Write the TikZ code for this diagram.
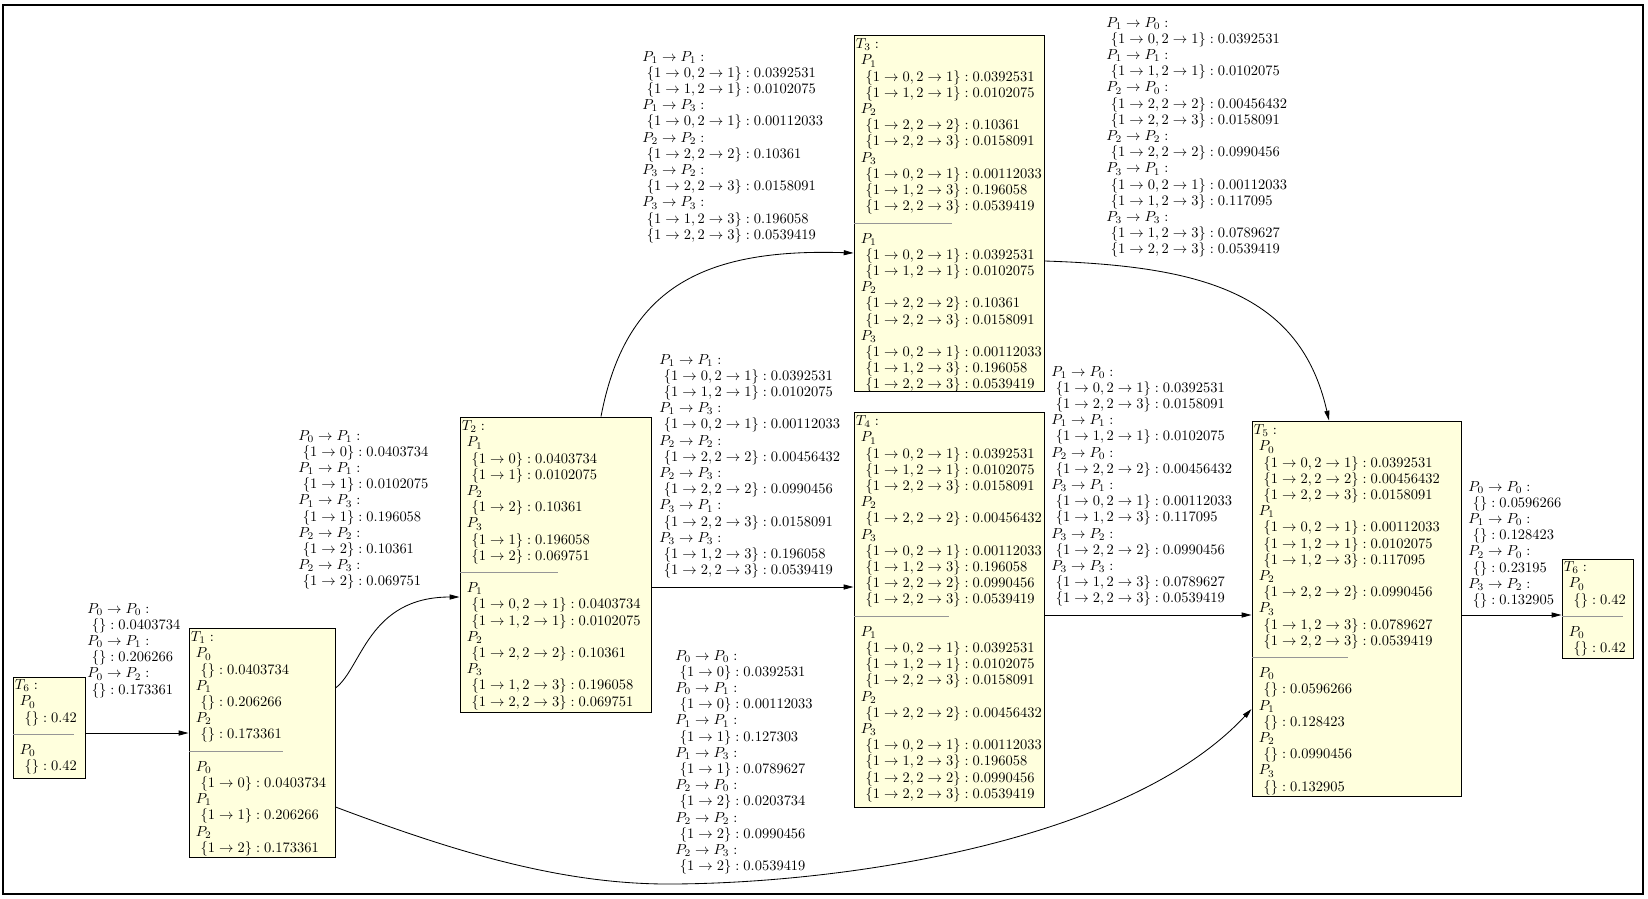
\RequirePackage{fix-cm}
\documentclass[tikz,border=0pt]{standalone}
\usepackage{xcolor}
\usetikzlibrary{arrows.meta,fit}
\definecolor{boxfill}{RGB}{255,255,221}
\definecolor{sepgray}{RGB}{150,150,150}
\newlength\indA \setlength\indA{3.6pt}
\newlength\indB \setlength\indB{7pt}
\newlength\indL \setlength\indL{3.3pt}
\newcommand{\BH}[1]{$T_{#1}:$}
\newcommand{\BP}[1]{\hspace*{\indA}$P_{#1}$}
\newcommand{\BE}[2]{\hspace*{\indB}$\{#1\}:#2$}
\newcommand{\BS}[1]{\hspace*{-1.4pt}\textcolor{sepgray}{\rule[2.5pt]{#1}{0.5pt}}}
\newcommand{\LH}[2]{$P_{#1}\to P_{#2}:$}
\newcommand{\LE}[2]{\hspace*{\indL}$\{#1\}:#2$}
\begin{document}
\begin{tikzpicture}[x=0.7143pt,y=-0.7143pt,
  box/.style={draw=black, fill=boxfill, line width=0.7pt, inner sep=0pt},
  txt/.style={anchor=north west, inner sep=0pt, align=left, font=\fontsize{10.35pt}{11.57pt}\selectfont},
  arr/.style={-{Triangle[length=7pt,width=3.6pt]}, line width=0.6pt}]
\useasboundingbox (0,0) rectangle (1648,899);
\draw[line width=1.4pt] (3,5) rectangle (1643,894);

% boxes
\node[box, fit={(13,677) (85,778)}] (T6a) {};
\node[box, fit={(189,628) (335,857)}] (T1) {};
\node[box, fit={(460,417) (651,712)}] (T2) {};
\node[box, fit={(854,35) (1044,391)}] (T3) {};
\node[box, fit={(854,412) (1044,807)}] (T4) {};
\node[box, fit={(1252,421) (1461,796)}] (T5) {};
\node[box, fit={(1562,559) (1633,658)}] (T6b) {};

% box texts
\node[txt] (T6at) at ([shift={(2,3)}]T6a.north west) {\BH{6}\\ \BP{0}\\ \BE{}{0.42}\\ \BS{44pt}\\ \BP{0}\\ \BE{}{0.42}};
\node[txt] (T6bt) at ([shift={(2,3)}]T6b.north west) {\BH{6}\\ \BP{0}\\ \BE{}{0.42}\\ \BS{44pt}\\ \BP{0}\\ \BE{}{0.42}};
\node[txt] (T1t) at ([shift={(2,4)}]T1.north west) {\BH{1}\\ \BP{0}\\ \BE{}{0.0403734}\\ \BP{1}\\ \BE{}{0.206266}\\ \BP{2}\\ \BE{}{0.173361}\\ \BS{67pt}\\
 \BP{0}\\ \BE{1\to 0}{0.0403734}\\ \BP{1}\\ \BE{1\to 1}{0.206266}\\ \BP{2}\\ \BE{1\to 2}{0.173361}};
\node[txt] (T2t) at ([shift={(2,4)}]T2.north west) {\BH{2}\\ \BP{1}\\ \BE{1\to 0}{0.0403734}\\ \BE{1\to 1}{0.0102075}\\ \BP{2}\\ \BE{1\to 2}{0.10361}\\ \BP{3}\\ \BE{1\to 1}{0.196058}\\ \BE{1\to 2}{0.069751}\\ \BS{70pt}\\
 \BP{1}\\ \BE{1\to 0,2\to 1}{0.0403734}\\ \BE{1\to 1,2\to 1}{0.0102075}\\ \BP{2}\\ \BE{1\to 2,2\to 2}{0.10361}\\ \BP{3}\\ \BE{1\to 1,2\to 3}{0.196058}\\ \BE{1\to 2,2\to 3}{0.069751}};
\node[txt] (T3t) at ([shift={(2,4)}]T3.north west) {\BH{3}\\ \BP{1}\\ \BE{1\to 0,2\to 1}{0.0392531}\\ \BE{1\to 1,2\to 1}{0.0102075}\\ \BP{2}\\ \BE{1\to 2,2\to 2}{0.10361}\\ \BE{1\to 2,2\to 3}{0.0158091}\\ \BP{3}\\ \BE{1\to 0,2\to 1}{0.00112033}\\ \BE{1\to 1,2\to 3}{0.196058}\\ \BE{1\to 2,2\to 3}{0.0539419}\\ \BS{70pt}\\
 \BP{1}\\ \BE{1\to 0,2\to 1}{0.0392531}\\ \BE{1\to 1,2\to 1}{0.0102075}\\ \BP{2}\\ \BE{1\to 2,2\to 2}{0.10361}\\ \BE{1\to 2,2\to 3}{0.0158091}\\ \BP{3}\\ \BE{1\to 0,2\to 1}{0.00112033}\\ \BE{1\to 1,2\to 3}{0.196058}\\ \BE{1\to 2,2\to 3}{0.0539419}};
\node[txt] (T4t) at ([shift={(2,4)}]T4.north west) {\BH{4}\\ \BP{1}\\ \BE{1\to 0,2\to 1}{0.0392531}\\ \BE{1\to 1,2\to 1}{0.0102075}\\ \BE{1\to 2,2\to 3}{0.0158091}\\ \BP{2}\\ \BE{1\to 2,2\to 2}{0.00456432}\\ \BP{3}\\ \BE{1\to 0,2\to 1}{0.00112033}\\ \BE{1\to 1,2\to 3}{0.196058}\\ \BE{1\to 2,2\to 2}{0.0990456}\\ \BE{1\to 2,2\to 3}{0.0539419}\\ \BS{68pt}\\
 \BP{1}\\ \BE{1\to 0,2\to 1}{0.0392531}\\ \BE{1\to 1,2\to 1}{0.0102075}\\ \BE{1\to 2,2\to 3}{0.0158091}\\ \BP{2}\\ \BE{1\to 2,2\to 2}{0.00456432}\\ \BP{3}\\ \BE{1\to 0,2\to 1}{0.00112033}\\ \BE{1\to 1,2\to 3}{0.196058}\\ \BE{1\to 2,2\to 2}{0.0990456}\\ \BE{1\to 2,2\to 3}{0.0539419}};
\node[txt] (T5t) at ([shift={(2,4)}]T5.north west) {\BH{5}\\ \BP{0}\\ \BE{1\to 0,2\to 1}{0.0392531}\\ \BE{1\to 2,2\to 2}{0.00456432}\\ \BE{1\to 2,2\to 3}{0.0158091}\\ \BP{1}\\ \BE{1\to 0,2\to 1}{0.00112033}\\ \BE{1\to 1,2\to 1}{0.0102075}\\ \BE{1\to 1,2\to 3}{0.117095}\\ \BP{2}\\ \BE{1\to 2,2\to 2}{0.0990456}\\ \BP{3}\\ \BE{1\to 1,2\to 3}{0.0789627}\\ \BE{1\to 2,2\to 3}{0.0539419}\\ \BS{69pt}\\
 \BP{0}\\ \BE{}{0.0596266}\\ \BP{1}\\ \BE{}{0.128423}\\ \BP{2}\\ \BE{}{0.0990456}\\ \BP{3}\\ \BE{}{0.132905}};

% edge labels
\node[txt] (L61) at (87,603) {\LH{0}{0}\\ \LE{}{0.0403734}\\ \LH{0}{1}\\ \LE{}{0.206266}\\ \LH{0}{2}\\ \LE{}{0.173361}};
\node[txt] (L12) at (298,430) {\LH{0}{1}\\ \LE{1\to 0}{0.0403734}\\ \LH{1}{1}\\ \LE{1\to 1}{0.0102075}\\ \LH{1}{3}\\ \LE{1\to 1}{0.196058}\\ \LH{2}{2}\\ \LE{1\to 2}{0.10361}\\ \LH{2}{3}\\ \LE{1\to 2}{0.069751}};
\node[txt] (L23) at (642,51) {\LH{1}{1}\\ \LE{1\to 0,2\to 1}{0.0392531}\\ \LE{1\to 1,2\to 1}{0.0102075}\\ \LH{1}{3}\\ \LE{1\to 0,2\to 1}{0.00112033}\\ \LH{2}{2}\\ \LE{1\to 2,2\to 2}{0.10361}\\ \LH{3}{2}\\ \LE{1\to 2,2\to 3}{0.0158091}\\ \LH{3}{3}\\ \LE{1\to 1,2\to 3}{0.196058}\\ \LE{1\to 2,2\to 3}{0.0539419}};
\node[txt] (L24) at (659,354) {\LH{1}{1}\\ \LE{1\to 0,2\to 1}{0.0392531}\\ \LE{1\to 1,2\to 1}{0.0102075}\\ \LH{1}{3}\\ \LE{1\to 0,2\to 1}{0.00112033}\\ \LH{2}{2}\\ \LE{1\to 2,2\to 2}{0.00456432}\\ \LH{2}{3}\\ \LE{1\to 2,2\to 2}{0.0990456}\\ \LH{3}{1}\\ \LE{1\to 2,2\to 3}{0.0158091}\\ \LH{3}{3}\\ \LE{1\to 1,2\to 3}{0.196058}\\ \LE{1\to 2,2\to 3}{0.0539419}};
\node[txt] (L15) at (675,650) {\LH{0}{0}\\ \LE{1\to 0}{0.0392531}\\ \LH{0}{1}\\ \LE{1\to 0}{0.00112033}\\ \LH{1}{1}\\ \LE{1\to 1}{0.127303}\\ \LH{1}{3}\\ \LE{1\to 1}{0.0789627}\\ \LH{2}{0}\\ \LE{1\to 2}{0.0203734}\\ \LH{2}{2}\\ \LE{1\to 2}{0.0990456}\\ \LH{2}{3}\\ \LE{1\to 2}{0.0539419}};
\node[txt] (L35) at (1106,17) {\LH{1}{0}\\ \LE{1\to 0,2\to 1}{0.0392531}\\ \LH{1}{1}\\ \LE{1\to 1,2\to 1}{0.0102075}\\ \LH{2}{0}\\ \LE{1\to 2,2\to 2}{0.00456432}\\ \LE{1\to 2,2\to 3}{0.0158091}\\ \LH{2}{2}\\ \LE{1\to 2,2\to 2}{0.0990456}\\ \LH{3}{1}\\ \LE{1\to 0,2\to 1}{0.00112033}\\ \LE{1\to 1,2\to 3}{0.117095}\\ \LH{3}{3}\\ \LE{1\to 1,2\to 3}{0.0789627}\\ \LE{1\to 2,2\to 3}{0.0539419}};
\node[txt] (L45) at (1051,366) {\LH{1}{0}\\ \LE{1\to 0,2\to 1}{0.0392531}\\ \LE{1\to 2,2\to 3}{0.0158091}\\ \LH{1}{1}\\ \LE{1\to 1,2\to 1}{0.0102075}\\ \LH{2}{0}\\ \LE{1\to 2,2\to 2}{0.00456432}\\ \LH{3}{1}\\ \LE{1\to 0,2\to 1}{0.00112033}\\ \LE{1\to 1,2\to 3}{0.117095}\\ \LH{3}{2}\\ \LE{1\to 2,2\to 2}{0.0990456}\\ \LH{3}{3}\\ \LE{1\to 1,2\to 3}{0.0789627}\\ \LE{1\to 2,2\to 3}{0.0539419}};
\node[txt] (L56) at (1468,481) {\LH{0}{0}\\ \LE{}{0.0596266}\\ \LH{1}{0}\\ \LE{}{0.128423}\\ \LH{2}{0}\\ \LE{}{0.23195}\\ \LH{3}{2}\\ \LE{}{0.132905}};

% connectors
\draw[arr] (T6a.east |- 0,733) -- (T1.west |- 0,733);
\draw[arr] (T1.east |- 0,688) .. controls (362,668) and (368,597) .. (T2.west |- 0,597);
\draw[arr] (T1.east |- 0,807) .. controls (450,850) and (560,885) .. (673,884) .. controls (850,883) and (1130,840) .. (T5.west |- 0,709);
\draw[arr] (601,0 |- T2.north) .. controls (625,290) and (700,248) .. (T3.west |- 0,253);
\draw[arr] (T2.east |- 0,587) -- (T4.west |- 0,587);
\draw[arr] (T3.east |- 0,261) .. controls (1200,266) and (1300,292) .. (1329,0 |- T5.north);
\draw[arr] (T4.east |- 0,615) -- (T5.west |- 0,615);
\draw[arr] (T5.east |- 0,615) -- (T6b.west |- 0,615);
\end{tikzpicture}
\end{document}
